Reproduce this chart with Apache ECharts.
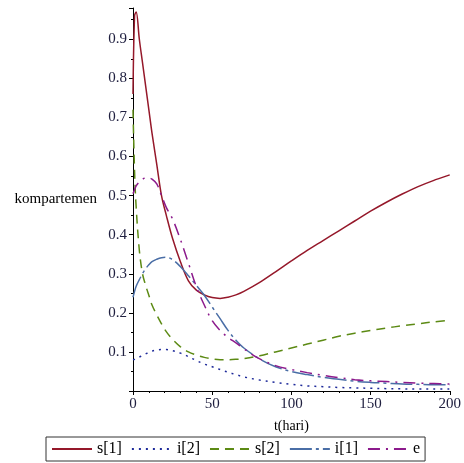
<!DOCTYPE html>
<html>
<head>
<meta charset="utf-8">
<script src="https://cdn.jsdelivr.net/npm/echarts@6/dist/echarts.min.js"></script>
<style>
  html, body { margin: 0; padding: 0; background: #fff; }
  #myChart { width: 464px; height: 463px; }
</style>
</head>
<body>
<div id="myChart"></div>
<script>
// waktu (hari)
var tHari = [0, 1, 2, 4, 6, 8, 10, 12, 15, 18, 21, 25, 30, 35, 40, 45, 50, 55, 60, 65, 70, 80, 90, 100, 110, 120, 130, 140, 150, 160, 170, 180, 190, 200];

var s1 = [0.76, 0.96, 0.97, 0.90, 0.84, 0.78, 0.72, 0.66, 0.58, 0.50, 0.45, 0.39, 0.33, 0.282, 0.258, 0.246, 0.239, 0.237, 0.240, 0.246, 0.255, 0.278, 0.305, 0.333, 0.360, 0.385, 0.410, 0.435, 0.460, 0.483, 0.504, 0.523, 0.539, 0.553];
var i2 = [0.080, 0.081, 0.083, 0.087, 0.091, 0.095, 0.099, 0.102, 0.105, 0.106, 0.106, 0.103, 0.097, 0.088, 0.078, 0.069, 0.062, 0.055, 0.048, 0.042, 0.036, 0.028, 0.022, 0.017, 0.013, 0.011, 0.009, 0.008, 0.007, 0.006, 0.0055, 0.005, 0.005, 0.005];
var s2 = [0.72, 0.56, 0.47, 0.36, 0.30, 0.27, 0.245, 0.22, 0.195, 0.172, 0.152, 0.132, 0.113, 0.100, 0.092, 0.086, 0.082, 0.080, 0.080, 0.081, 0.083, 0.090, 0.100, 0.110, 0.120, 0.130, 0.140, 0.148, 0.155, 0.161, 0.167, 0.172, 0.177, 0.181];
var i1 = [0.240, 0.255, 0.268, 0.285, 0.300, 0.313, 0.323, 0.331, 0.337, 0.341, 0.342, 0.336, 0.318, 0.295, 0.270, 0.245, 0.215, 0.185, 0.155, 0.130, 0.110, 0.082, 0.062, 0.050, 0.042, 0.035, 0.030, 0.025, 0.022, 0.020, 0.018, 0.017, 0.016, 0.016];
var e = [0.505, 0.515, 0.525, 0.535, 0.542, 0.545, 0.545, 0.542, 0.530, 0.500, 0.470, 0.440, 0.387, 0.327, 0.267, 0.220, 0.180, 0.155, 0.137, 0.123, 0.108, 0.082, 0.065, 0.055, 0.047, 0.040, 0.034, 0.029, 0.026, 0.024, 0.022, 0.020, 0.019, 0.018];

var serif = 'Liberation Serif';

function pairs(ys) {
  return tHari.map(function (t, k) { return [t, ys[k]]; });
}

function garis(nama, ys, warna, tipe) {
  return {
    name: nama,
    type: 'line',
    data: pairs(ys),
    symbol: 'none',
    smooth: 0.35,
    lineStyle: { color: warna, width: 1.5, type: tipe },
    itemStyle: { color: warna }
  };
}

var myChart = echarts.init(document.getElementById('myChart'));
myChart.setOption({
  animation: false,
  backgroundColor: '#fff',
  grid: { left: 133, right: 11, top: 8, bottom: 72 },
  xAxis: {
    type: 'value',
    min: 0,
    max: 200,
    interval: 50,
    name: 't(hari)',
    nameLocation: 'middle',
    nameGap: 28,
    nameTextStyle: { fontFamily: serif, fontSize: 14, color: '#000' },
    axisLine: { lineStyle: { color: '#000', width: 1 } },
    axisTick: { show: true, length: 4, lineStyle: { color: '#000' } },
    minorTick: { show: true, splitNumber: 5, length: 2, lineStyle: { color: '#000' } },
    axisLabel: { fontFamily: serif, fontSize: 15, color: '#202040', margin: 6 },
    splitLine: { show: false }
  },
  yAxis: {
    type: 'value',
    min: 0,
    max: 0.98,
    interval: 0.1,
    name: 'kompartemen',
    nameLocation: 'middle',
    nameRotate: 0,
    nameGap: 36,
    nameTextStyle: { fontFamily: serif, fontSize: 15, color: '#000', align: 'right' },
    axisLine: { show: true, onZero: false, lineStyle: { color: '#000', width: 1 } },
    axisTick: { show: true, length: 4, lineStyle: { color: '#000' } },
    minorTick: { show: true, splitNumber: 2, length: 2, lineStyle: { color: '#000' } },
    axisLabel: {
      fontFamily: serif, fontSize: 15, color: '#202040', margin: 6,
      showMinLabel: false, showMaxLabel: false,
      formatter: function (v) { return (v === 0 || v > 0.95) ? '' : v.toFixed(1); }
    },
    splitLine: { show: false }
  },
  legend: {
    left: 46,
    top: 437,
    orient: 'horizontal',
    padding: [4, 5],
    itemWidth: 40,
    itemHeight: 14,
    itemGap: 9,
    borderColor: '#333',
    borderWidth: 1,
    borderRadius: 0,
    itemStyle: { opacity: 0 },
    textStyle: { fontFamily: serif, fontSize: 16, color: '#000' },
    data: ['s[1]', 'i[2]', 's[2]', 'i[1]', 'e']
  },
  series: [
    garis('s[1]', s1, '#95182a', 'solid'),
    garis('i[2]', i2, '#1e2a9a', [2, 5]),
    garis('s[2]', s2, '#5c8a14', [9, 6]),
    garis('i[1]', i1, '#4a6ea6', [22, 4, 3, 4]),
    garis('e', e, '#8c1a8c', [12, 6, 2, 6])
  ]
});
</script>
</body>
</html>
